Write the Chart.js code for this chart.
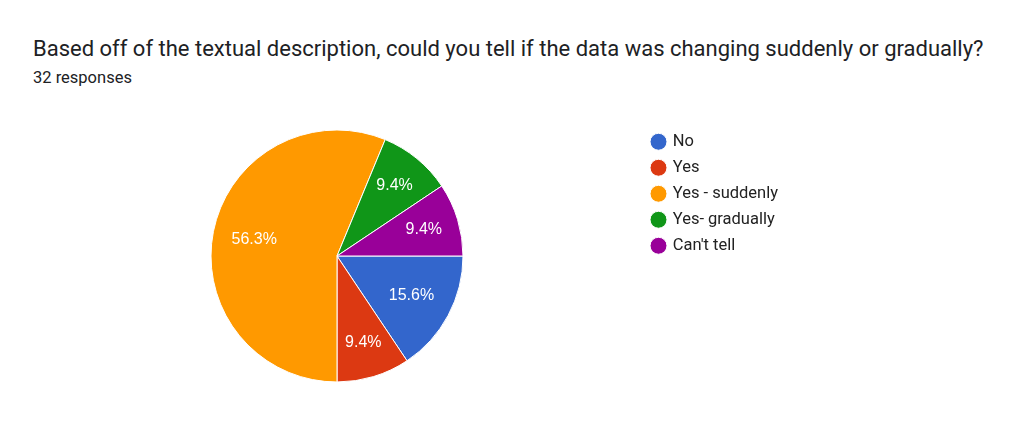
<!DOCTYPE html>
<html lang="en">
<head>
  <meta charset="UTF-8"/>
  <title>Suddenly or gradually</title>
  <script src="https://cdn.jsdelivr.net/npm/chart.js"></script>
  <style>
    body {
      margin: 0;
      background: #fff;
      font-family: Roboto, Arial, sans-serif;
    }
    .wrap {
      position: relative;
      width: 1024px;
      height: 430px;
    }
    .q-title {
      position: absolute;
      left: 33px;
      top: 38px;
      font-size: 22px;
      line-height: 22px;
      color: #202124;
      white-space: nowrap;
    }
    .q-sub {
      position: absolute;
      left: 33px;
      top: 70px;
      font-size: 16.5px;
      line-height: 16px;
      color: #202124;
    }
    canvas {
      position: absolute;
      left: 0;
      top: 0;
    }
  </style>
</head>
<body>
  <div class="wrap">
    <div class="q-title">Based off of the textual description, could you tell if the data was changing suddenly or gradually?</div>
    <div class="q-sub">32 responses</div>
    <canvas id="chart" width="1024" height="430"></canvas>
  </div>

  <script>
    const answers = ["No", "Yes", "Yes - suddenly", "Yes- gradually", "Can't tell"];
    const counts  = [5, 3, 18, 3, 3];
    const colors  = ["#3366cc", "#dc3912", "#ff9900", "#109618", "#990099"];

    const total = counts.reduce((a, b) => a + b, 0);

    // percentage labels inside the slices
    const sliceLabels = {
      id: "sliceLabels",
      afterDatasetsDraw(chart) {
        const ctx = chart.ctx;
        const meta = chart.getDatasetMeta(0);
        ctx.save();
        ctx.font = "16px Arial, 'Liberation Sans', sans-serif";
        ctx.fillStyle = "#ffffff";
        ctx.textAlign = "center";
        ctx.textBaseline = "middle";
        meta.data.forEach((arc, i) => {
          const p = arc.getProps(["x", "y", "startAngle", "endAngle", "outerRadius"], true);
          const span = p.endAngle - p.startAngle;
          const mid = p.startAngle + span / 2;
          const f = span < 0.7 ? 0.72 : 0.67;
          const tx = p.x + Math.cos(mid) * p.outerRadius * f;
          const ty = p.y + Math.sin(mid) * p.outerRadius * f;
          const pct = (counts[i] / total * 100).toFixed(1) + "%";
          ctx.fillText(pct, tx, ty);
        });
        ctx.restore();
      }
    };

    // keep the legend at a fixed width so the pie sits where it should
    const legendWidth = {
      id: "legendWidth",
      afterInit(chart) {
        const lg = chart.legend;
        const fit = lg.fit.bind(lg);
        lg.fit = function () { fit(); this.width = 381; };
      }
    };

    new Chart(document.getElementById("chart"), {
      type: "pie",
      data: {
        labels: answers,
        datasets: [{
          data: counts,
          backgroundColor: colors,
          borderColor: "#ffffff",
          borderWidth: 1,
          radius: 126
        }]
      },
      options: {
        responsive: false,
        animation: false,
        rotation: 90,
        layout: { padding: { left: 31, right: 0, top: 124, bottom: 42 } },
        plugins: {
          tooltip: { enabled: false },
          legend: {
            position: "right",
            align: "start",
            labels: {
              usePointStyle: true,
              pointStyle: "circle",
              boxWidth: 12,
              boxHeight: 12,
              padding: 9.5,
              color: "#222222",
              font: { family: "Roboto", size: 16.5 }
            }
          }
        }
      },
      plugins: [sliceLabels, legendWidth]
    });
  </script>
</body>
</html>
